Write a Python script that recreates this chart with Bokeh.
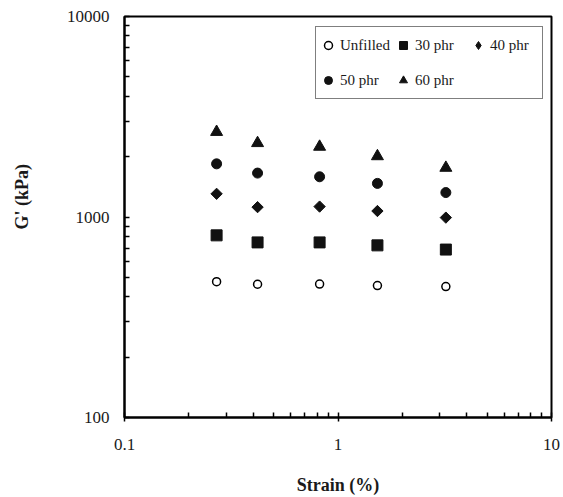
from bokeh.plotting import figure
from bokeh.models import FixedTicker, CustomJSTickFormatter, Legend, LegendItem
from bokeh.embed import file_html
from bokeh.resources import INLINE
import math

strain = [0.27, 0.42, 0.82, 1.53, 3.2]
unfilled = [476, 462, 463, 455, 450]
phr30 = [810, 747, 747, 722, 688]
phr40 = [1305, 1120, 1127, 1071, 993]
phr50 = [1841, 1656, 1587, 1471, 1324]
phr60 = [2656, 2336, 2240, 2009, 1759]

x_ticks = [0.1, 1, 10]
y_ticks = [100, 1000, 10000]

FONT = "Liberation Serif"

p = figure(width=563, height=497, x_axis_type="log", y_axis_type="log",
           x_range=(0.1, 10), y_range=(100, 10000),
           output_backend="svg", toolbar_location=None,
           min_border_left=124, min_border_right=12, min_border_top=16, min_border_bottom=76)
p.xgrid.visible = False
p.ygrid.visible = False
p.outline_line_color = "black"
p.outline_line_width = 2
p.background_fill_color = "white"
p.border_fill_color = "white"

xminor = [m * 10.0 ** e for e in (-1, 0) for m in range(2, 10)]
yminor = [m * 10.0 ** e for e in (2, 3) for m in range(2, 10)]
p.xaxis.ticker = FixedTicker(ticks=x_ticks, minor_ticks=xminor)
p.yaxis.ticker = FixedTicker(ticks=y_ticks, minor_ticks=yminor)
p.xaxis.formatter = CustomJSTickFormatter(code="return tick.toString()")
p.yaxis.formatter = CustomJSTickFormatter(code="return tick.toString()")

for ax in (p.xaxis[0], p.yaxis[0]):
    ax.axis_line_width = 2
    ax.axis_line_color = "black"
    ax.major_tick_line_width = 1.5
    ax.minor_tick_line_width = 1.5
    ax.major_tick_line_color = "black"
    ax.minor_tick_line_color = "black"
    ax.major_tick_in = 5
    ax.minor_tick_in = 5
    ax.minor_tick_out = 0
    ax.major_label_text_font = FONT
    ax.major_label_text_font_size = "17px"
    ax.major_label_text_color = "#1a1a1a"
    ax.axis_label_text_font = FONT
    ax.axis_label_text_font_size = "18px"
    ax.axis_label_text_font_style = "bold"
    ax.axis_label_text_color = "#1a1a1a"

p.xaxis.major_tick_out = 4
p.yaxis.major_tick_out = 0
p.xaxis.major_label_standoff = 17
p.yaxis.major_label_standoff = 15
p.xaxis.axis_label = "Strain (%)"
p.xaxis.axis_label_standoff = 22
p.yaxis.axis_label = "\u00a0" * 9 + "G' (kPa)"
p.yaxis.axis_label_standoff = 32

DARK = "#111111"
r0 = p.scatter(strain, unfilled, marker="circle", size=8, fill_color="white",
               line_color="black", line_width=1.5)
r1 = p.scatter(strain, phr30, marker="square", size=11, fill_color=DARK, line_color=DARK)
r2 = p.scatter(strain, phr40, marker="square", size=8, angle=math.pi / 4,
               fill_color=DARK, line_color=DARK)
r2_key = p.scatter(strain, phr40, marker="diamond", size=12,
                   fill_color=DARK, line_color=DARK, visible=False)
r3 = p.scatter(strain, phr50, marker="circle", size=10, fill_color=DARK, line_color=DARK)
r4 = p.scatter(strain, phr60, marker="triangle", size=12, fill_color=DARK, line_color=DARK)

legend = Legend(items=[
    LegendItem(label="Unfilled", renderers=[r0]),
    LegendItem(label="30 phr", renderers=[r1]),
    LegendItem(label="40 phr", renderers=[r2_key]),
    LegendItem(label="50 phr", renderers=[r3]),
    LegendItem(label="60 phr", renderers=[r4]),
], location=(191, 318), orientation="horizontal", ncols=3)
legend.label_text_font = FONT
legend.label_text_font_size = "15px"
legend.label_text_color = "#1a1a1a"
legend.glyph_width = 20
legend.glyph_height = 22
legend.label_height = 32
legend.label_width = 50
legend.label_standoff = 2
legend.spacing = 3
legend.padding = 2
legend.margin = 0
legend.border_line_color = "black"
legend.border_line_width = 1.5
legend.background_fill_alpha = 1
p.add_layout(legend, "center")

open("out.html", "w").write(file_html(p, INLINE))
